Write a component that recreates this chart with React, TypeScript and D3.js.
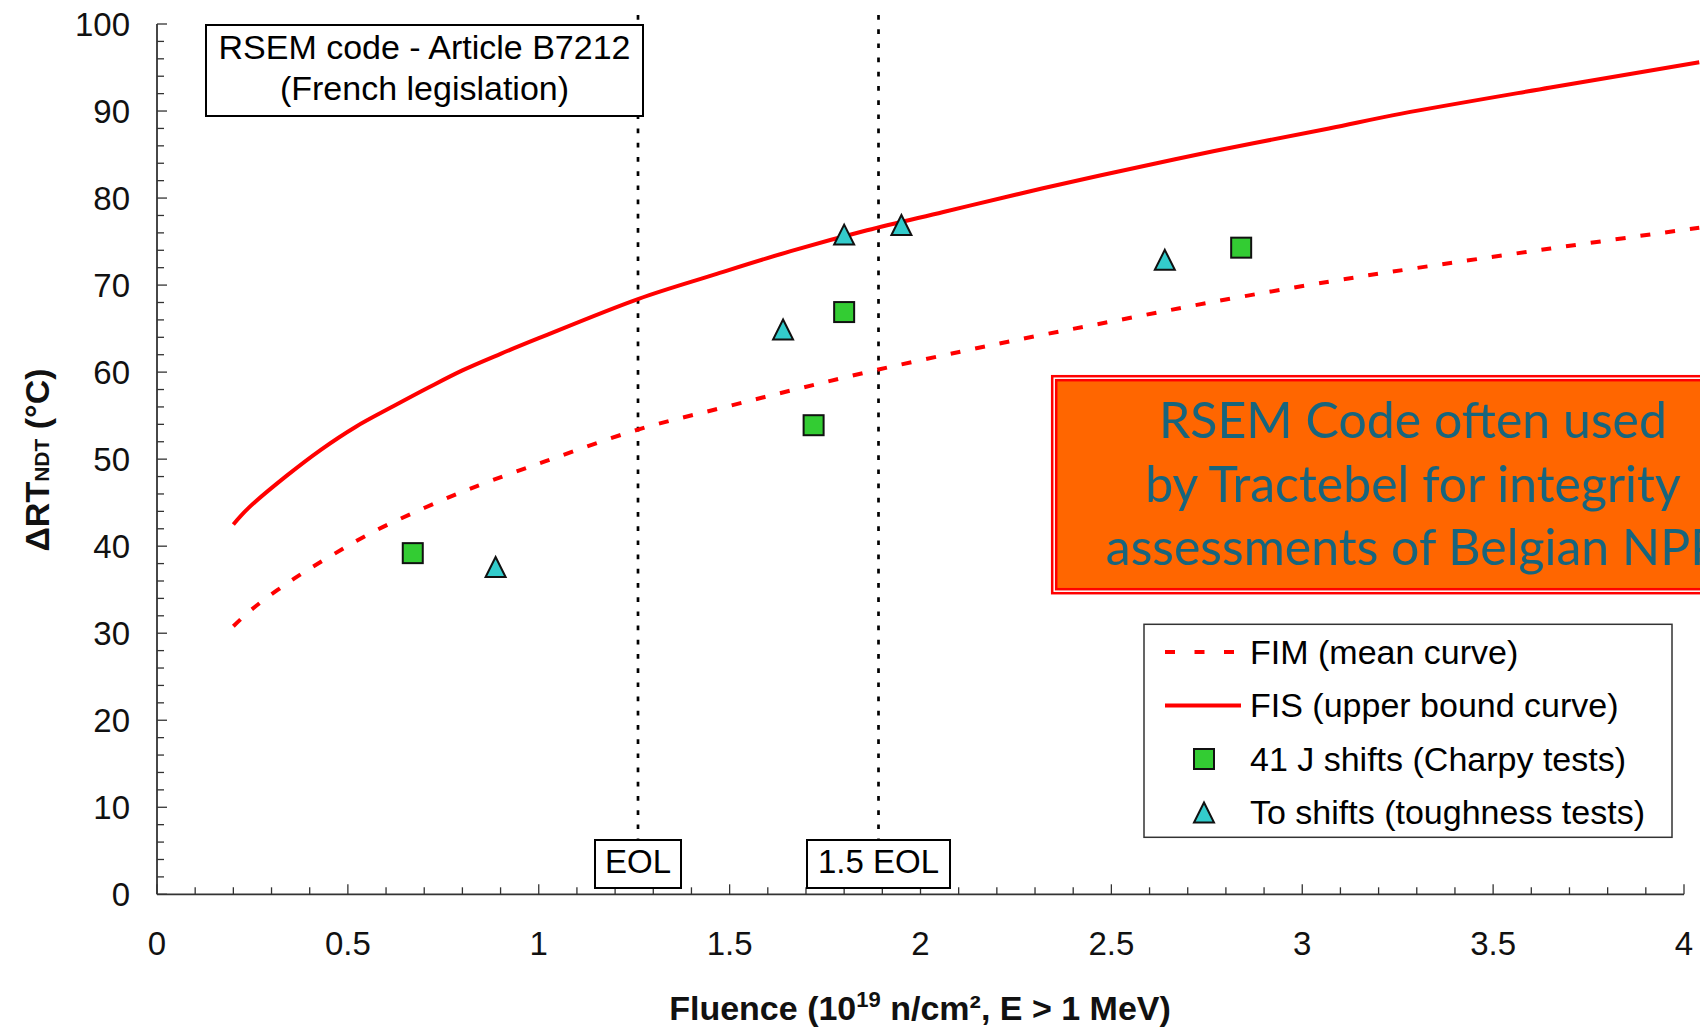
import * as d3 from "d3";

// RSEM embrittlement curves (FIM mean, FIS upper bound) vs. surveillance shifts.
// Values.
const fimCurve: [number, number][] = [
  [0.2, 30.8], [0.25, 32.8], [0.36, 36.3], [0.46, 39.0], [0.56, 41.5], [0.67, 43.8],
  [0.78, 45.9], [0.88, 47.6], [1.02, 49.8], [1.26, 53.4], [1.48, 55.9],
  [1.68, 58.1], [1.89, 60.3], [2.11, 62.4], [2.31, 64.2], [2.51, 65.9], [2.77, 68.1],
  [3.07, 70.4], [3.29, 71.9], [3.65, 74.2], [4.04, 76.6],
];
const fisCurve: [number, number][] = [
  [0.2, 42.5], [0.24, 44.4], [0.34, 48.1], [0.43, 51.1], [0.52, 53.7], [0.62, 56.1],
  [0.71, 58.2], [0.8, 60.2], [0.9, 62.1], [1.0, 63.9], [1.26, 68.4],
  [1.46, 71.2], [1.66, 73.9], [1.86, 76.3], [2.06, 78.4], [2.26, 80.5], [2.47, 82.6],
  [2.77, 85.4], [3.07, 88.0], [3.26, 89.7], [3.65, 92.7], [4.04, 95.6],
];
const charpyShifts: [number, number][] = [
  [0.67, 39.2], [1.72, 53.9], [1.8, 66.9], [2.84, 74.3],
];
const toughnessShifts: [number, number][] = [
  [0.887, 37.6], [1.64, 64.9], [1.8, 75.8], [1.95, 76.9], [2.64, 72.9],
];
const eolMarks = [
  { x: 1.26, label: "EOL", w: 86 },
  { x: 1.89, label: "1.5 EOL", w: 143 },
];
const xTicks = [0, 0.5, 1, 1.5, 2, 2.5, 3, 3.5, 4];
const yTicks = [0, 10, 20, 30, 40, 50, 60, 70, 80, 90, 100];
const noteLines = ["RSEM Code often used", "by Tractebel for integrity", "assessments of Belgian NPP"];
const legendItems = [
  { kind: "dash", label: "FIM (mean curve)" },
  { kind: "solid", label: "FIS (upper bound curve)" },
  { kind: "square", label: "41 J shifts (Charpy tests)" },
  { kind: "triangle", label: "To shifts (toughness tests)" },
];

const W = 1700;
const H = 1027;
const FONT = "'Liberation Sans', Arial, sans-serif";
const RED = "#FF0000";
const GREEN = "#33CC33";
const CYAN = "#33CCCC";

const x = d3.scaleLinear().domain([0, 4]).range([157, 1684]);
const y = d3.scaleLinear().domain([0, 100]).range([894.3, 24]);

const line = d3
  .line<[number, number]>()
  .x((d) => x(d[0]))
  .y((d) => y(d[1]))
  .curve(d3.curveCatmullRom.alpha(0.5));

const tri = (cx: number, cy: number, s = 20) =>
  `M${cx},${cy - s / 2}L${cx + s / 2},${cy + s / 2}L${cx - s / 2},${cy + s / 2}Z`;

export default function App() {
  const minorX = d3.range(0, 4.001, 0.1);
  const minorY = d3.range(0, 100.1, 2);
  const x0 = x(0);
  const y0 = y(0);

  return (
    <svg
      width={W}
      height={H}
      style={{ position: "absolute", left: 0, top: 0, background: "#fff" }}
      fontFamily={FONT}
    >
      {/* axes */}
      <line x1={x0} x2={x(4)} y1={y0} y2={y0} stroke="#333" strokeWidth={1.8} />
      <line x1={x0} x2={x0} y1={y0} y2={y(100)} stroke="#333" strokeWidth={1.8} />
      {minorX.map((t) => {
        const major = Math.abs(t * 2 - Math.round(t * 2)) < 1e-6;
        return (
          <line key={`mx${t}`} x1={x(t)} x2={x(t)} y1={y0} y2={y0 - (major ? 10 : 7)} stroke="#333" strokeWidth={1.3} />
        );
      })}
      {minorY.map((t) => (
        <line key={`my${t}`} x1={x0} x2={x0 + (t % 10 === 0 ? 10 : 7)} y1={y(t)} y2={y(t)} stroke="#333" strokeWidth={1.3} />
      ))}
      {yTicks.map((t) => (
        <text key={`y${t}`} x={130} y={y(t) + 11.5} textAnchor="end" fontSize={33} fill="#111">{t}</text>
      ))}
      {xTicks.map((t) => (
        <text key={`x${t}`} x={x(t)} y={955} textAnchor="middle" fontSize={33} fill="#111">{t}</text>
      ))}

      {/* axis titles */}
      <text x={920} y={1020} textAnchor="middle" fontSize={34} fontWeight="bold" fill="#111">
        Fluence (10<tspan fontSize={22} dy={-13}>19</tspan>
        <tspan dy={13}> n/cm², E &gt; 1 MeV)</tspan>
      </text>
      <text transform="translate(49,460) rotate(-90)" textAnchor="middle" fontSize={34} fontWeight="bold" fill="#111">
        ΔRT<tspan fontSize={21}>NDT</tspan> (°C)
      </text>

      {/* EOL verticals */}
      {eolMarks.map((m) => (
        <line key={`v${m.label}`} x1={x(m.x)} x2={x(m.x)} y1={15} y2={y0} stroke="#000" strokeWidth={2.7} strokeDasharray="4.7,9.5" />
      ))}

      {/* curves */}
      <path d={line(fimCurve) ?? ""} fill="none" stroke={RED} strokeWidth={4} strokeDasharray="10,15" />
      <path d={line(fisCurve) ?? ""} fill="none" stroke={RED} strokeWidth={4} />

      {/* data points */}
      {charpyShifts.map((p, i) => (
        <rect key={`c${i}`} x={x(p[0]) - 10} y={y(p[1]) - 10} width={20} height={20} fill={GREEN} stroke="#111" strokeWidth={2} />
      ))}
      {toughnessShifts.map((p, i) => (
        <path key={`t${i}`} d={tri(x(p[0]), y(p[1]))} fill={CYAN} stroke="#111" strokeWidth={2} strokeLinejoin="miter" />
      ))}

      {/* EOL labels */}
      {eolMarks.map((m) => (
        <g key={`b${m.label}`}>
          <rect x={x(m.x) - m.w / 2} y={840} width={m.w} height={48} fill="#fff" stroke="#000" strokeWidth={2} />
          <text x={x(m.x)} y={873} textAnchor="middle" fontSize={33} fill="#000">{m.label}</text>
        </g>
      ))}

      {/* code box */}
      <rect x={206} y={25} width={437} height={91} fill="#fff" stroke="#000" strokeWidth={2} />
      <text x={424.5} y={58.5} textAnchor="middle" fontSize={34} fill="#000">RSEM code - Article B7212</text>
      <text x={424.5} y={99.5} textAnchor="middle" fontSize={34} fill="#000">(French legislation)</text>

      {/* orange note */}
      <rect x={1052.2} y={376.2} width={700} height={217} fill="#fff" stroke={RED} strokeWidth={2.5} />
      <rect x={1056.2} y={380.2} width={700} height={209} fill="#FF6600" stroke={RED} strokeWidth={2.5} />
      {noteLines.map((s, i) => (
        <text key={s} x={1413} y={438 + i * 63.5} textAnchor="middle" fontSize={50} fontFamily="Lato, 'Open Sans', sans-serif" fill="#17657D">{s}</text>
      ))}

      {/* legend */}
      <rect x={1144} y={624.3} width={528} height={213} fill="#fff" stroke="#333" strokeWidth={1.5} />
      {legendItems.map((it, i) => {
        const cy = 652 + i * 53.5;
        return (
          <g key={it.label}>
            {it.kind === "dash" && (
              <line x1={1165} x2={1235} y1={cy} y2={cy} stroke={RED} strokeWidth={4} strokeDasharray="10,19.5" />
            )}
            {it.kind === "solid" && <line x1={1165} x2={1241} y1={cy} y2={cy} stroke={RED} strokeWidth={4} />}
            {it.kind === "square" && (
              <rect x={1194} y={cy - 10} width={20} height={20} fill={GREEN} stroke="#111" strokeWidth={2} />
            )}
            {it.kind === "triangle" && <path d={tri(1204, cy)} fill={CYAN} stroke="#111" strokeWidth={2} />}
            <text x={1250} y={cy + 11.5} fontSize={34} fill="#000">{it.label}</text>
          </g>
        );
      })}
    </svg>
  );
}
